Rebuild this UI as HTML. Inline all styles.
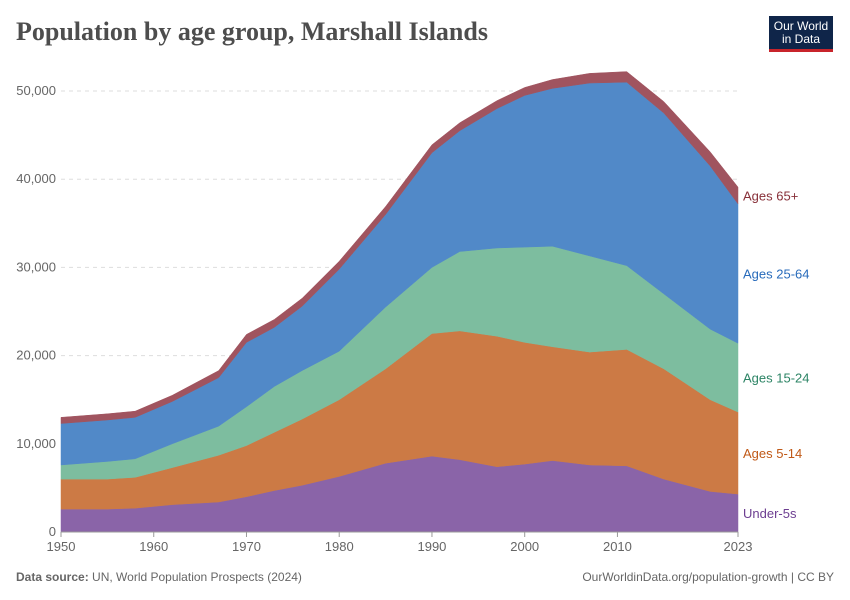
<!DOCTYPE html>
<html><head><meta charset="utf-8"><style>
body{margin:0;background:#fff;font-family:"Liberation Sans",sans-serif;}
#wrap{position:relative;width:850px;height:600px;overflow:hidden;}
.title{position:absolute;left:16px;top:17px;font-family:"Liberation Serif",serif;font-size:26px;font-weight:bold;color:#4d4d4d;}
.logo{position:absolute;left:769px;top:16px;width:64px;height:36px;background:#0f2549;border-bottom:3px solid #c8242b;color:#fff;font-size:12px;line-height:13px;text-align:center;padding-top:4px;box-sizing:border-box;}
.foot{position:absolute;top:570px;font-size:12px;color:#666;}
</style></head><body><div id="wrap">
<div class="title">Population by age group, Marshall Islands</div>
<div class="logo">Our World<br>in Data</div>
<svg id="svg" width="850" height="600" style="position:absolute;left:0;top:0"></svg>
<div class="foot" style="left:16px"><b>Data source:</b> UN, World Population Prospects (2024)</div>
<div class="foot" style="right:16px">OurWorldinData.org/population-growth | CC BY</div>
</div>
<script>
const years=[1950,1955,1958,1962,1967,1970,1973,1976,1980,1985,1990,1993,1997,2000,2003,2007,2011,2015,2020,2023];
const under5=[2600,2600,2700,3100,3400,4000,4700,5300,6300,7800,8600,8200,7400,7700,8100,7600,7500,6000,4600,4300];
const age5to14=[3400,3400,3500,4200,5300,5800,6600,7500,8700,10700,13900,14600,14800,13800,12900,12800,13200,12500,10400,9300];
const age15to24=[1600,2000,2100,2700,3300,4400,5200,5500,5500,7000,7500,9000,10000,10800,11400,10900,9500,8500,8000,7800];
const age25to64=[4700,4700,4700,4800,5500,7300,6700,7300,9300,10500,13000,13700,15800,17200,17900,19600,20800,20500,18500,15800];
const age65plus=[700,700,700,700,800,900,900,900,900,900,900,900,900,900,1000,1100,1200,1300,1600,1900];
const seriesNames=["Under-5s","Ages 5-14","Ages 15-24","Ages 25-64","Ages 65+"];
const colors=["#8a64a8","#cc7a45","#7dbd9f","#5189c8","#a0545f"];
const labelColors=["#6d3e91","#c05917","#2c8465","#286bbb","#883039"];
const yTicks=[0,10000,20000,30000,40000,50000];
const xTicks=[1950,1960,1970,1980,1990,2000,2010,2023];
const svg=document.getElementById('svg');const NS='http://www.w3.org/2000/svg';
const x=v=>61+(v-1950)/(2023-1950)*(738-61);
const y=v=>532-v/50000*441;
function mk(t,a){const e=document.createElementNS(NS,t);for(const k in a)e.setAttribute(k,a[k]);svg.appendChild(e);return e;}
yTicks.forEach(t=>{
 if(t>0){const l=mk('line',{x1:61,x2:738,y1:y(t),y2:y(t),stroke:'#ddd','stroke-dasharray':'4,4'});
 
 }
 const tx=mk('text',{x:56,y:y(t)+4,'text-anchor':'end','font-size':13,fill:'#666','font-family':'Liberation Sans'});tx.textContent=t.toLocaleString('en-US');
 
 
});
const all=[under5,age5to14,age15to24,age25to64,age65plus];
let base=years.map(()=>0);
all.forEach((s,i)=>{
 const top=base.map((b,j)=>b+s[j]);
 let d='M'+years.map((yr,j)=>x(yr)+','+y(top[j])).join('L');
 for(let j=years.length-1;j>=0;j--)d+='L'+x(years[j])+','+y(base[j]);
 const p=mk('path',{d:d+'Z',fill:colors[i],stroke:colors[i],'stroke-width':0.5});
 
 
 const n=years.length-1;const mid=(base[n]+top[n])/2;
 const lb=mk('text',{x:743,y:y(mid)+5,'font-size':13,fill:labelColors[i],'font-family':'Liberation Sans'});lb.textContent=seriesNames[i];
 
 
 base=top;
});
const ax=mk('line',{x1:61,x2:738,y1:532,y2:532,stroke:'#999'});


xTicks.forEach(t=>{
 const tk=mk('line',{x1:x(t),x2:x(t),y1:532,y2:537,stroke:'#999'});
 
 
 const tx=mk('text',{x:x(t),y:551,'text-anchor':'middle','font-size':13,fill:'#666','font-family':'Liberation Sans'});tx.textContent=t;
 
 
});
</script></body></html>
